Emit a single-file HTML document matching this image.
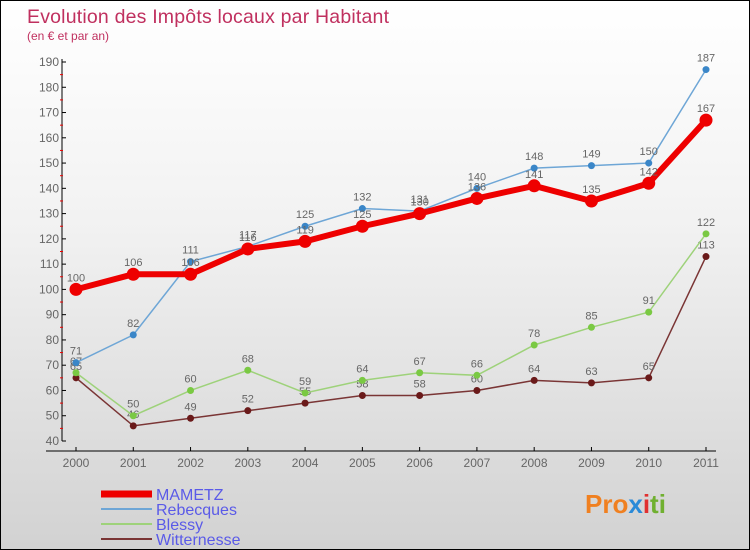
<!DOCTYPE html>
<html><head><meta charset="utf-8"><style>
body{margin:0}
#c{width:748px;height:548px;border:1px solid #000;background:linear-gradient(#fff,#f2f2f2 40%,#d2d2d2);position:relative;font-family:"Liberation Sans",sans-serif;overflow:hidden}
</style></head><body>
<div id="c">
<svg id="s" width="748" height="548" xmlns="http://www.w3.org/2000/svg">
<text x="26" y="22" font-size="19.5" fill="#c0305f" textLength="362">Evolution des Impôts locaux par Habitant</text>
<text x="26" y="39" font-size="12" fill="#c0305f">(en € et par an)</text>
<g id="axes"></g><g id="series"></g><g id="legend"></g>
<text x="584" y="512" font-size="26" font-weight="bold" fill="#f08020">Pro<tspan fill="#2a8ad8">x</tspan><tspan fill="#e03030">i</tspan><tspan fill="#70b030">ti</tspan></text>
</svg></div>
<script>
const years=["2000","2001","2002","2003","2004","2005","2006","2007","2008","2009","2010","2011"];
const yTicks=[40,50,60,70,80,90,100,110,120,130,140,150,160,170,180,190];
const mametz=[100,106,106,116,119,125,130,136,141,135,142,167];
const rebecques=[71,82,111,117,125,132,131,140,148,149,150,187];
const blessy=[67,50,60,68,59,64,67,66,78,85,91,122];
const witternesse=[65,46,49,52,55,58,58,60,64,63,65,113];
const NS="http://www.w3.org/2000/svg";
const X=i=>75+i*(630/11), Y=v=>440-(v-40)*(379/150);
function mk(t,a,p){const e=document.createElementNS(NS,t);for(const k in a)e.setAttribute(k,a[k]);p.appendChild(e);return e;}
const ax=document.getElementById('axes');
let l=mk('line',{x1:61,y1:58,x2:61,y2:440,stroke:'#000'},ax);


l=mk('line',{x1:45,y1:450,x2:715,y2:450,stroke:'#000'},ax);


yTicks.forEach(v=>{const y=Y(v);mk('line',{x1:61,y1:y,x2:65,y2:y,stroke:'#000'},ax);
 if(v<190)mk('line',{x1:59,y1:Y(v+5),x2:62,y2:Y(v+5),stroke:'#e00'},ax);
 const t=mk('text',{x:58,y:y+4,'text-anchor':'end','font-size':12,fill:'#666'},ax);t.textContent=v;
 
 });
years.forEach((yr,i)=>{mk('line',{x1:X(i),y1:446,x2:X(i),y2:450,stroke:'#000'},ax);
 const t=mk('text',{x:X(i),y:466,'text-anchor':'middle','font-size':12,fill:'#666'},ax);t.textContent=yr;
 
 });
const sg=document.getElementById('series');
const defs=[[witternesse,'#7a3535','#6a1a1a',1.5,3.5,'witternesse'],[blessy,'#9ed27a','#7ac943',1.5,3.5,'blessy'],[rebecques,'#6ea6d6','#3a86c8',1.5,3.5,'rebecques'],[mametz,'#ee0000','#ee0000',6,6.5,'mametz']];
defs.forEach(([d,c,pc,w,r,n])=>{
 const p=mk('polyline',{points:d.map((v,i)=>X(i)+','+Y(v)).join(' '),fill:'none',stroke:c,'stroke-width':w},sg);
 
 
 d.forEach((v,i)=>{const ci=mk('circle',{cx:X(i),cy:Y(v),r:r,fill:pc},sg);
  
  
  const t=mk('text',{x:X(i),y:Y(v)-8,'text-anchor':'middle','font-size':11,fill:'#666'},sg);t.textContent=v;
  
  });
});
const lg=document.getElementById('legend');
[['MAMETZ','#ee0000',7],['Rebecques','#6ea6d6',2],['Blessy','#9ed27a',2],['Witternesse','#7a3535',2]].forEach(([n,c,w],i)=>{
 const y=493+i*15;
 const ln=mk('line',{x1:100,y1:y,x2:151,y2:y,stroke:c,'stroke-width':w},lg);
 
 
 const t=mk('text',{x:155,y:y+6,'font-size':16,fill:'#5a5ae8'},lg);t.textContent=n;
 
 
});
</script>
</body></html>
